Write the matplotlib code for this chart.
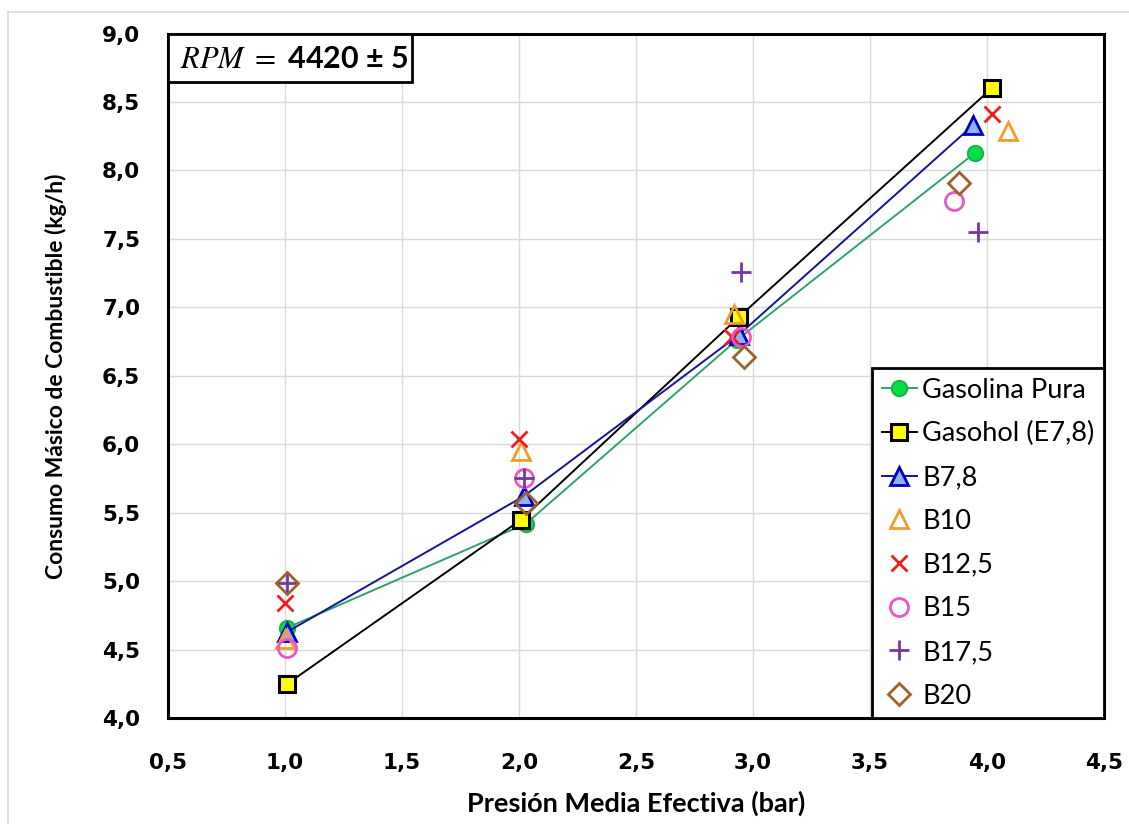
import matplotlib

matplotlib.use("Agg")

import matplotlib.pyplot as plt
from matplotlib.lines import Line2D
from matplotlib.patches import Rectangle
from matplotlib.ticker import FuncFormatter, MultipleLocator

# Presión media efectiva (bar) and consumo másico (kg/h) per fuel.
gasolina_x = [1.01, 2.03, 2.93, 3.95]
gasolina_y = [4.66, 5.42, 6.76, 8.13]

gasohol_x = [1.01, 2.01, 2.94, 4.02]
gasohol_y = [4.25, 5.45, 6.93, 8.60]

b78_x = [1.01, 2.02, 2.94, 3.94]
b78_y = [4.63, 5.62, 6.80, 8.33]

b10_x = [1.00, 2.01, 2.92, 4.09]
b10_y = [4.58, 5.95, 6.95, 8.29]

b125_x = [1.00, 2.00, 2.91, 4.02]
b125_y = [4.84, 6.04, 6.78, 8.41]

b15_x = [1.01, 2.02, 2.95, 3.86]
b15_y = [4.51, 5.75, 6.78, 7.78]

b175_x = [1.01, 2.02, 2.95, 3.96]
b175_y = [4.99, 5.75, 7.26, 7.55]

b20_x = [1.01, 2.03, 2.96, 3.88]
b20_y = [4.99, 5.57, 6.64, 7.91]

rpm_label = r"$RPM\ =\ $4420 ± 5"


def comma_format(value, _pos):
    return f"{value:.1f}".replace(".", ",")


def main() -> None:
    plt.rcParams["font.family"] = ["Lato", "DejaVu Sans"]
    plt.rcParams["mathtext.fontset"] = "stix"

    fig = plt.figure(figsize=(11.29, 8.24), dpi=100)
    ax = fig.add_axes([0.1488, 0.1286, 0.8291, 0.8307])

    # Series joined by lines.
    ax.plot(gasolina_x, gasolina_y, color="#2fa36b", linewidth=1.4,
            marker="o", markersize=11, markerfacecolor="#00e040",
            markeredgecolor="#22b04a", markeredgewidth=1.5,
            label="Gasolina Pura", zorder=3)
    ax.plot(gasohol_x, gasohol_y, color="black", linewidth=1.4,
            marker="s", markersize=11, markerfacecolor="#ffff00",
            markeredgecolor="black", markeredgewidth=2.2,
            label="Gasohol (E7,8)", zorder=3)
    ax.plot(b78_x, b78_y, color="#141496", linewidth=1.4,
            marker="^", markersize=13, markerfacecolor="#8fb2ee",
            markeredgecolor="#0000c8", markeredgewidth=2,
            label="B7,8", zorder=3)

    # Marker-only series.
    ax.plot(b10_x, b10_y, linestyle="none", marker="^", markersize=13,
            markerfacecolor="none", markeredgecolor="#f39c2a",
            markeredgewidth=2, label="B10", zorder=4)
    ax.plot(b125_x, b125_y, linestyle="none", marker="x", markersize=12,
            markeredgecolor="#ee1c1c", markeredgewidth=2,
            label="B12,5", zorder=4)
    ax.plot(b15_x, b15_y, linestyle="none", marker="o", markersize=13,
            markerfacecolor="none", markeredgecolor="#ea55c8",
            markeredgewidth=2, label="B15", zorder=4)
    ax.plot(b175_x, b175_y, linestyle="none", marker="+", markersize=15,
            markeredgecolor="#7436a0", markeredgewidth=2,
            label="B17,5", zorder=4)
    ax.plot(b20_x, b20_y, linestyle="none", marker="D", markersize=11,
            markerfacecolor="none", markeredgecolor="#a0602c",
            markeredgewidth=2, label="B20", zorder=4)

    ax.set_xlim(0.5, 4.5)
    ax.set_ylim(4.0, 9.0)
    ax.xaxis.set_major_locator(MultipleLocator(0.5))
    ax.yaxis.set_major_locator(MultipleLocator(0.5))
    ax.xaxis.set_major_formatter(FuncFormatter(comma_format))
    ax.yaxis.set_major_formatter(FuncFormatter(comma_format))
    ax.grid(True, color="#d9d9d9", linewidth=1)
    ax.set_axisbelow(True)
    ax.tick_params(axis="both", length=0)
    ax.tick_params(axis="x", pad=25)
    ax.tick_params(axis="y", pad=20)
    for label in ax.get_xticklabels() + ax.get_yticklabels():
        label.set_family("DejaVu Sans")
        label.set_fontweight("bold")
        label.set_fontsize(15.5)

    for spine in ax.spines.values():
        spine.set_linewidth(2.2)
        spine.set_color("black")

    ax.set_xlabel("Presión Media Efectiva (bar)", fontsize=19.5,
                  fontweight="bold", va="center")
    ax.set_ylabel("Consumo Másico de Combustible (kg/h)", fontsize=16.5,
                  fontweight="bold", va="center")
    ax.xaxis.set_label_coords(0.5, -0.124)
    ax.yaxis.set_label_coords(-0.12, 0.5)

    # RPM box in the top-left corner.
    ax.add_patch(Rectangle((0, 0.929), 0.261, 0.071,
                           transform=ax.transAxes, facecolor="white",
                           edgecolor="black", linewidth=2, zorder=5,
                           clip_on=False))
    ax.text(0.013, 0.963, rpm_label, transform=ax.transAxes,
            fontsize=22, fontweight="bold", va="center", ha="left",
            zorder=6)

    legend = ax.legend(loc="lower right", bbox_to_anchor=(1.0, 0.0),
                       borderaxespad=0, fancybox=False, framealpha=1,
                       edgecolor="black", fontsize=19.5, handlelength=1.3,
                       handletextpad=0.2, labelspacing=0.69,
                       borderpad=0.35)
    legend.get_frame().set_linewidth(2)

    # Light outer frame of the chart area.
    fig.add_artist(Line2D([0.0071, 1.0], [0.9854, 0.9854],
                          color="#d9d9d9", linewidth=1.2))
    fig.add_artist(Line2D([0.0071, 0.0071], [0.0, 0.9854],
                          color="#d9d9d9", linewidth=1.2))

    fig.savefig("out.png", dpi=100)
    plt.close(fig)


if __name__ == "__main__":
    main()
